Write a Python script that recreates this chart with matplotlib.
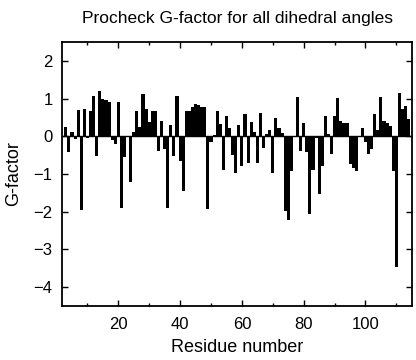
import matplotlib.pyplot as plt

# residuos 3..114 y su G-factor
residuos = list(range(3, 115))
gfactor = [0.25, -0.41, 0.12, -0.06, 0.69, -1.96, 0.73, -0.05, 0.67, 1.07,
           -0.53, 1.21, 0.99, 0.96, 0.92, -0.10, -0.20, 0.92, -1.90, -0.55,
           0.02, -1.21, 0.12, 0.67, 0.25, 1.12, 0.73, 0.37, 0.68, 0.66,
           -0.40, 0.42, -0.34, -1.90, 0.29, -0.52, 1.08, -0.66, -1.46, 0.67,
           0.68, 0.78, 0.86, 0.82, 0.79, 0.78, -1.92, -0.15, 0.03, 0.68,
           0.34, -0.88, 0.53, 0.22, -0.50, -0.97, 0.31, -0.78, 0.60, -0.71,
           0.37, 0.11, -0.70, 0.63, -0.31, 0.05, 0.16, -0.97, 0.49, 0.21,
           0.08, -1.99, -2.23, -0.93, -0.02, 1.04, -0.40, 0.35, -0.41, -2.07,
           -0.88, -0.05, -1.52, -0.79, 0.55, 0.07, -0.47, 0.53, 1.02, 0.40,
           0.35, 0.35, -0.74, -0.85, -0.93, 0.02, 0.22, -0.15, -0.48, -0.33,
           0.60, 0.16, 1.04, 0.40, 0.36, 0.28, -0.93, -3.47, 1.15, 0.72,
           0.80, 0.45]

plt.rcParams['font.family'] = ['Liberation Sans', 'DejaVu Sans']

fig = plt.figure(figsize=(4.16, 3.6), dpi=100)
ax = fig.add_axes([0.15, 0.15, 0.84, 0.733])
ax.bar(residuos, gfactor, width=1.0, color='black', edgecolor='none')
ax.axhline(0, color='black', linewidth=1)

ax.set_xlim(1.9, 115)
ax.set_ylim(-4.5, 2.5)
ax.set_xticks([20, 40, 60, 80, 100])
ax.set_xticks(range(10, 115, 10), minor=True)
ax.set_yticks([-4, -3, -2, -1, 0, 1, 2])
ax.tick_params(direction='in', top=True, right=True, length=4, width=1,
               labelsize=12)
ax.tick_params(axis='x', pad=8)
ax.tick_params(axis='y', pad=7)
ax.tick_params(which='minor', direction='in', top=True, length=2.5, width=1)
for s in ax.spines.values():
    s.set_linewidth(1.3)

ax.set_title("Procheck G-factor for all dihedral angles", fontsize=12.5, pad=14)
ax.set_xlabel("Residue number", fontsize=13, labelpad=5)
ax.set_ylabel("G-factor", fontsize=13, labelpad=8)

fig.savefig("out.png", dpi=100)
